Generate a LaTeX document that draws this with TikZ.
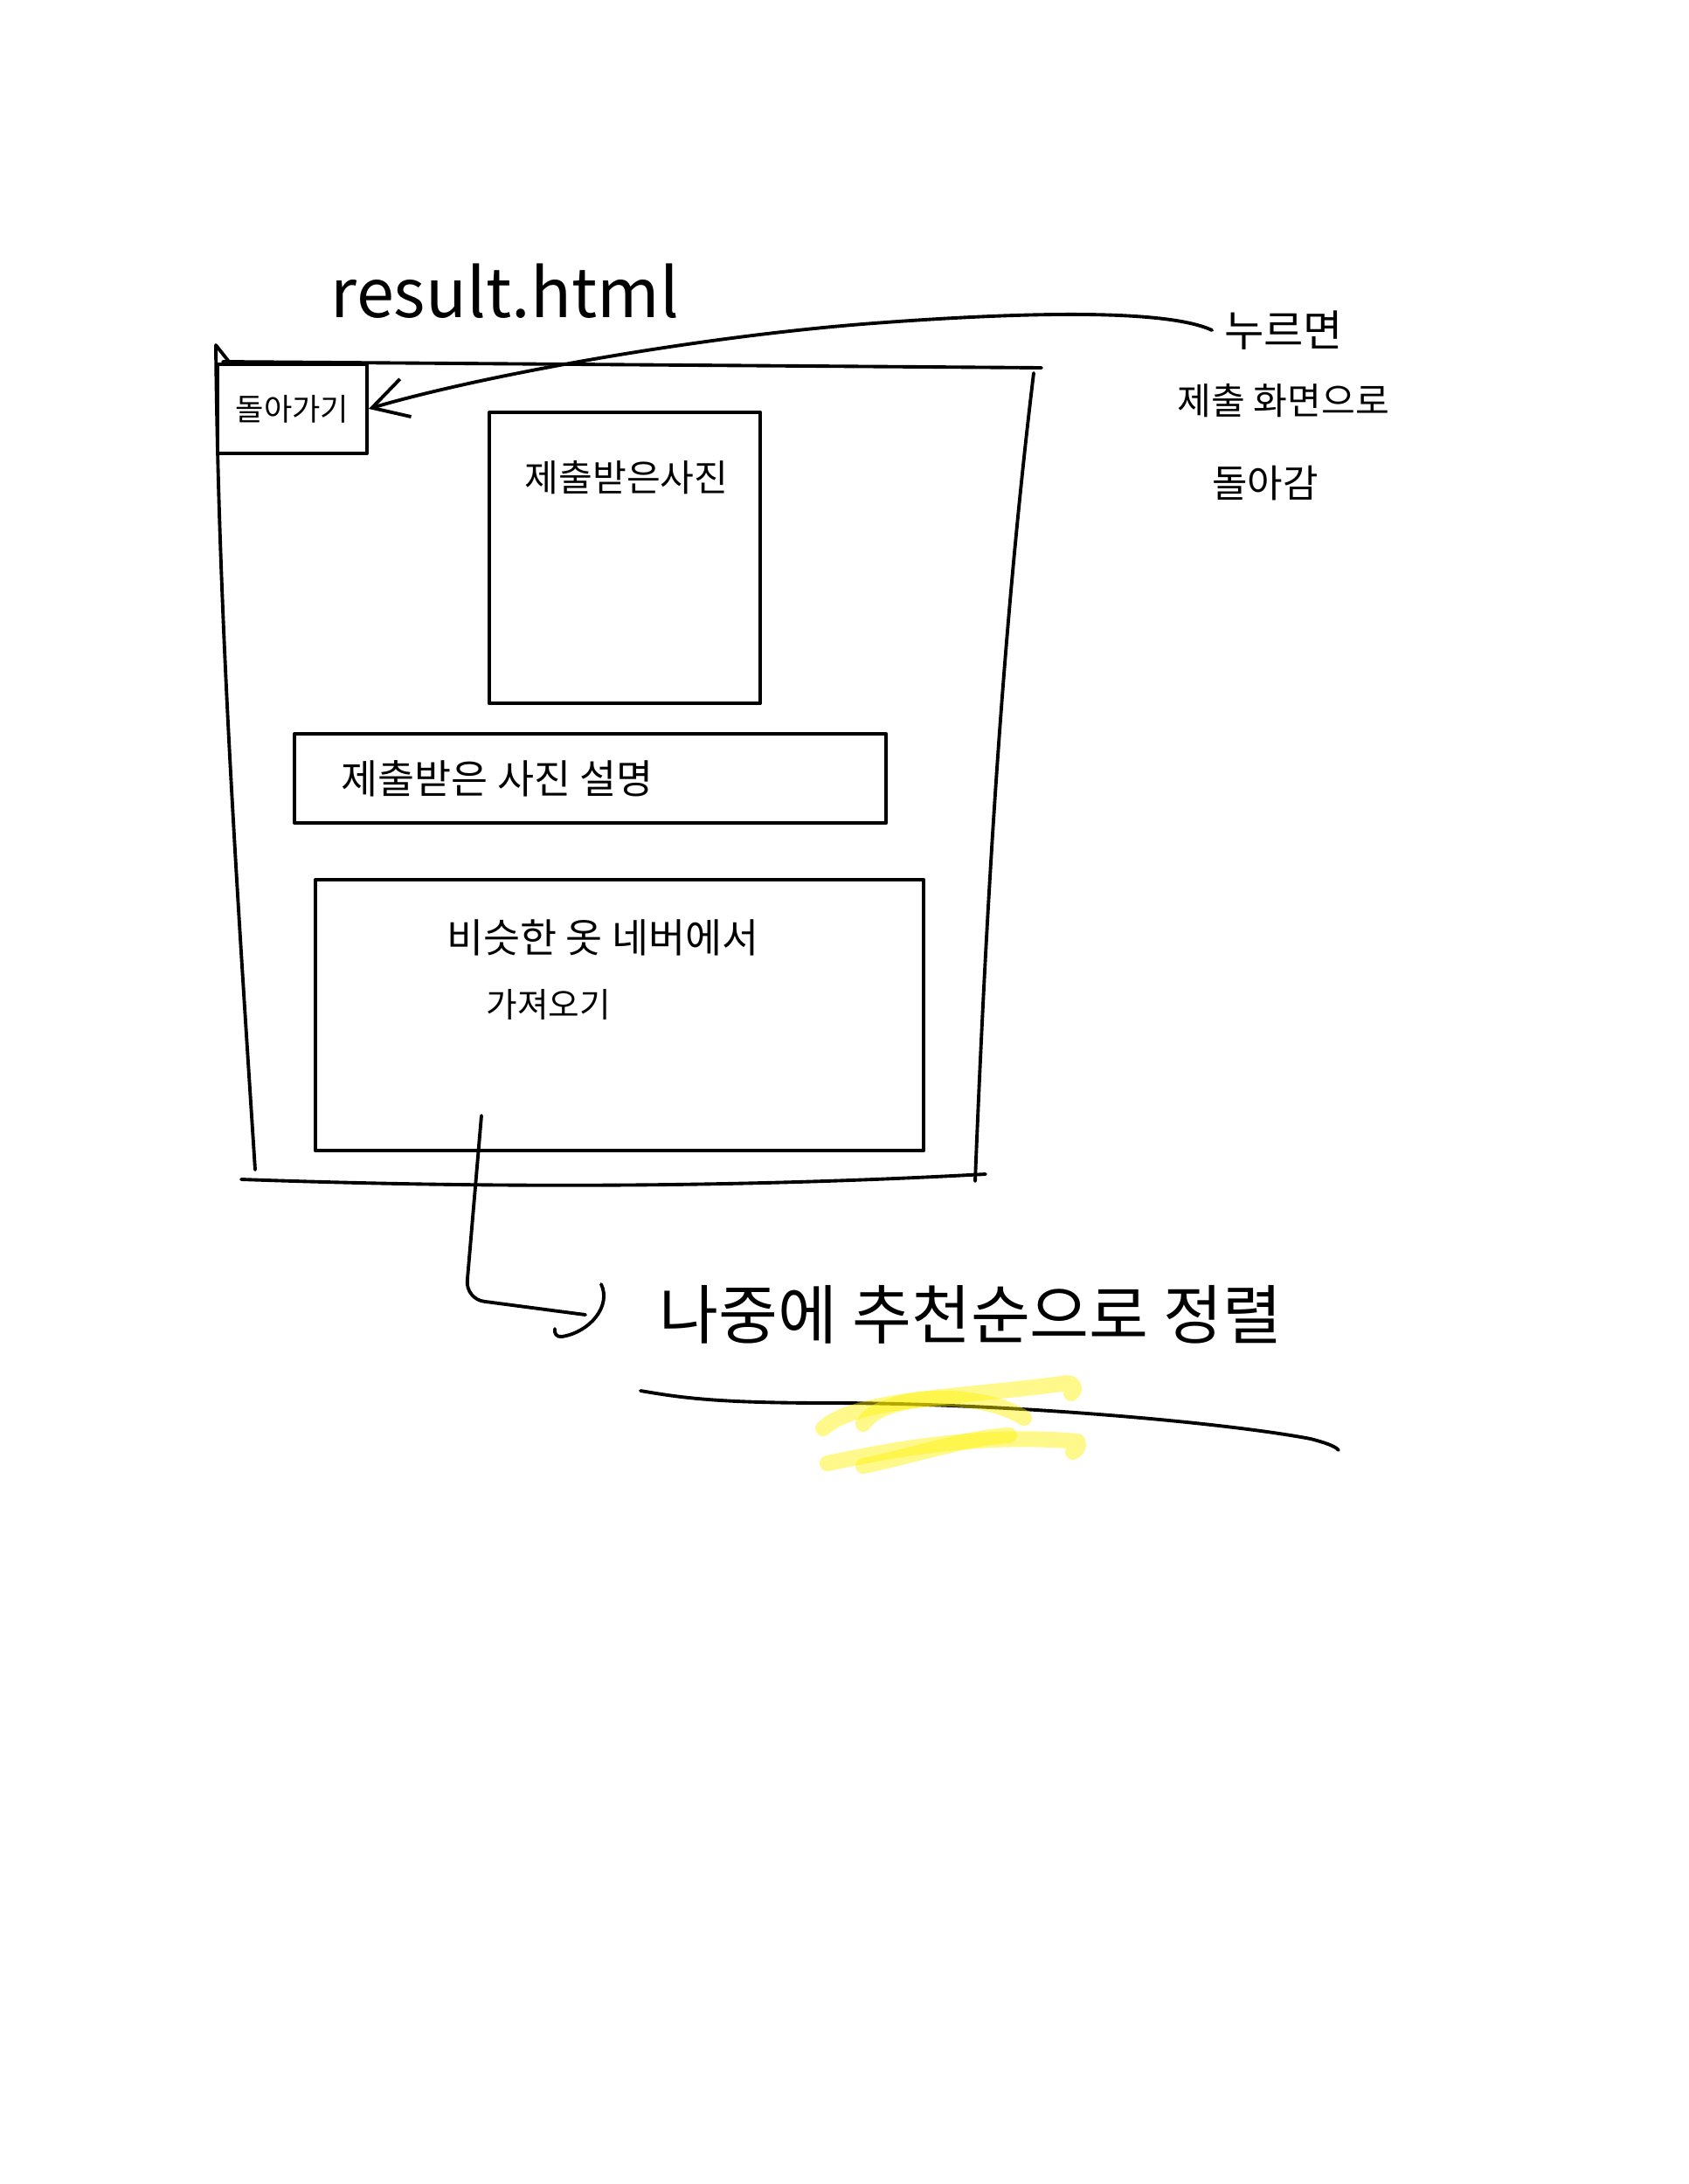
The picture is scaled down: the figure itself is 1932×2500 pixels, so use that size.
\documentclass[tikz,border=0pt]{standalone}
\usepackage{fontspec}
\setmainfont{Noto Sans CJK KR}
\usetikzlibrary{arrows.meta,positioning}

\tikzset{
  sketchbox/.style={draw, inner sep=0pt, anchor=north west},
  marker/.style={yellow, opacity=0.45, line width=0.18cm, line cap=round},
}

\begin{document}
\begin{tikzpicture}[x=0.01cm, y=-0.01cm, line width=1.1pt, line cap=round, line join=round,
  every node/.style={font=\fontsize{12}{14}\selectfont}]
  \useasboundingbox (0,0) rectangle (1932,2500);

  %% Title
  \node[font=\fontsize{22}{26}\selectfont] (title) at (578,333) {result.html};

  %% Page frame
  \draw (247,395) -- (262,414);
  \draw (247,395) .. controls (250,700) and (270,1000) .. (292,1339);
  \draw (255,414) -- (1192,421);
  \draw (1183,427) .. controls (1150,700) and (1130,1000) .. (1116,1352);
  \draw (276,1350) .. controls (500,1358) and (800,1362) .. (1128,1344);

  %% Boxes inside the page
  \node[sketchbox, minimum width=1.71cm, minimum height=1.02cm, font=\fontsize{10}{12}\selectfont]
    (back) at (247,415) {돌아가기};
  \node[sketchbox, minimum width=3.10cm, minimum height=3.33cm] (photo) at (558,470) {};
  \node (photocap) at (717,547) {제출받은사진};

  \node[sketchbox, minimum width=6.77cm, minimum height=1.02cm] (desc) at (335,838) {};
  \node[anchor=west, font=\fontsize{13}{15}\selectfont] (desccap) at ([xshift=0.42cm]desc.west) {제출받은 사진 설명};

  \node[sketchbox, minimum width=6.96cm, minimum height=3.10cm] (similar) at (359,1005) {};
  \node[font=\fontsize{13}{15}\selectfont] (similarcap) at (690,1073) {비슷한 옷 네버에서};
  \node[anchor=west, font=\fontsize{11}{13}\selectfont] (fetchcap) at (543,1150) {가져오기};

  %% Note on the right
  \node[font=\fontsize{14}{16}\selectfont, inner sep=0.12cm] (press) at (1469,378) {누르면};
  \node[below=0.12cm of press, font=\fontsize{12}{14}\selectfont] (submit) {제출 화면으로};
  \node[font=\fontsize{12.5}{14}\selectfont] (returns) at (1448,553) {돌아감};

  \draw[-{Straight Barb[length=0.4cm, width=0.45cm]}]
    (press.west) .. controls (1340,356) and (1200,355) .. (1000,370)
    .. controls (800,385) and (550,430) .. (back.east);

  %% Link to the sorting note
  \coordinate (linkstart) at (551,1277);
  \coordinate (linkend) at (670,1505);
  \draw[rounded corners=6pt] (linkstart) -- (533,1487) -- (linkend);
  \draw (688,1470) .. controls (700,1495) and (675,1525) .. (643,1530)
    .. controls (637,1531) and (634,1526) .. (635,1521);

  \node[font=\fontsize{21}{25}\selectfont] (sorting) at (1111,1505) {나중에 추천순으로 정렬};

  % underline
  \draw (733,1592) .. controls (780,1600) and (820,1606) .. (950,1606)
    .. controls (1150,1606) and (1400,1628) .. (1500,1647)
    .. controls (1515,1651) and (1528,1655) .. (1532,1660);

  % highlighter strokes
  \draw[marker] (942,1635) .. controls (980,1600) and (1100,1600) .. (1222,1583)
    .. controls (1232,1585) and (1230,1592) .. (1226,1595);
  \draw[marker] (988,1630) .. controls (1010,1595) and (1120,1590) .. (1172,1623);
  \draw[marker] (947,1675) .. controls (1020,1660) and (1120,1640) .. (1233,1650)
    .. controls (1236,1655) and (1232,1660) .. (1228,1662);
  \draw[marker] (988,1678) .. controls (1050,1665) and (1110,1645) .. (1155,1643);

\end{tikzpicture}
\end{document}
